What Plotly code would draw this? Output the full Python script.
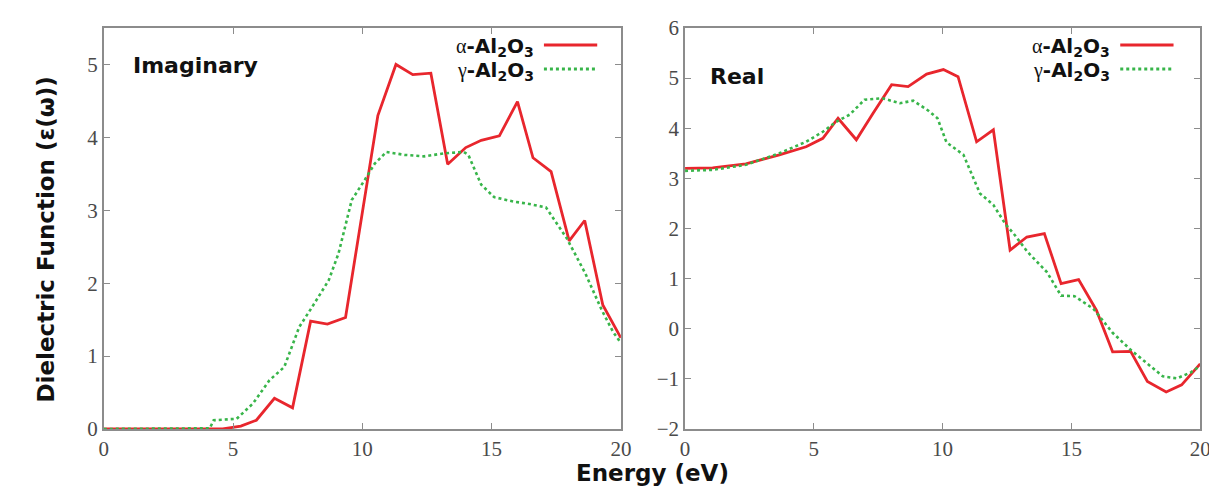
import plotly.graph_objects as go

# ---------------- data ----------------
# Imaginary part
imag_alpha_E = [0, 1, 2, 3, 4, 4.6, 5.3, 5.9, 6.6, 7.3, 8.0, 8.65, 9.35, 10.0, 10.6, 11.3,
                11.95, 12.65, 13.3, 14.0, 14.6, 15.3, 16.0, 16.6, 17.3, 18.0, 18.6, 19.3, 20.0]
imag_alpha_v = [0, 0, 0, 0, 0, 0.0, 0.04, 0.12, 0.42, 0.29, 1.48, 1.44, 1.53, 2.95, 4.3, 5.0,
                4.86, 4.88, 3.63, 3.86, 3.96, 4.02, 4.49, 3.72, 3.53, 2.58, 2.86, 1.7, 1.25]

imag_gamma_E = [0, 1, 2, 3, 4.1, 4.25, 5.14, 5.77, 6.41, 6.98, 7.56, 8.07, 8.7, 9.08, 9.59, 10.1,
                10.48, 10.93, 11.63, 12.39, 13.16, 13.92, 14.1, 14.6, 15.1, 15.83, 16.4, 17.1,
                17.9, 18.63, 19.26, 19.7, 20.0]
imag_gamma_v = [0, 0, 0, 0, 0.01, 0.12, 0.14, 0.35, 0.67, 0.85, 1.4, 1.68, 2.04, 2.41, 3.14, 3.42,
                3.64, 3.8, 3.76, 3.74, 3.78, 3.8, 3.76, 3.35, 3.18, 3.12, 3.09, 3.04,
                2.62, 2.13, 1.63, 1.33, 1.18]

# Real part
real_alpha_E = [0, 1.07, 2.36, 3.66, 4.7, 5.35, 5.94, 6.65, 7.3, 8.02, 8.66, 9.38, 10.03, 10.6,
                11.32, 11.97, 12.62, 13.27, 13.95, 14.6, 15.28, 15.97, 16.6, 17.3, 17.95, 18.68,
                19.28, 20.0]
real_alpha_v = [3.2, 3.21, 3.29, 3.47, 3.63, 3.8, 4.2, 3.77, 4.3, 4.87, 4.83, 5.08, 5.17, 5.03,
                3.73, 3.97, 1.57, 1.83, 1.9, 0.9, 0.98, 0.37, -0.46, -0.45, -1.05, -1.26,
                -1.12, -0.7]

real_gamma_E = [0, 1.07, 2.36, 3.66, 4.7, 5.35, 5.87, 6.39, 6.97, 7.65, 8.34, 8.86, 9.45, 9.8,
                10.15, 10.81, 11.45, 11.97, 12.45, 12.8, 13.3, 14.05, 14.6, 15.12, 15.85,
                16.6, 17.3, 17.85, 18.55, 19.1, 19.64, 20.0]
real_gamma_v = [3.15, 3.17, 3.27, 3.5, 3.73, 3.93, 4.13, 4.27, 4.57, 4.6, 4.5, 4.55, 4.35, 4.2,
                3.72, 3.47, 2.7, 2.47, 2.08, 1.87, 1.53, 1.13, 0.66, 0.65, 0.4,
                -0.08, -0.42, -0.65, -0.95, -0.99, -0.87, -0.74]

x_ticks = [0, 5, 10, 15, 20]
imag_ticks = [0, 1, 2, 3, 4, 5]
real_ticks = [-2, -1, 0, 1, 2, 3, 4, 5, 6]

series_prefix = ["α", "γ"]
series_body = "-Al<sub>2</sub>O<sub>3</sub>"
panel_labels = ["Imaginary", "Real"]

# ---------------- styling ----------------
W, H = 1217, 490
RED = "#e8262d"
GREEN = "#38b54a"
FRAME = "#8c8c8c"
TICKFONT = dict(family="Liberation Serif", size=21, color="#4a4a4a")
BOLD = "DejaVu Sans"

fig = go.Figure()

fig.add_trace(go.Scatter(x=imag_alpha_E, y=imag_alpha_v, mode="lines",
                         line=dict(color=RED, width=2.8), xaxis="x", yaxis="y",
                         showlegend=False))
fig.add_trace(go.Scatter(x=imag_gamma_E, y=imag_gamma_v, mode="lines",
                         line=dict(color=GREEN, width=2.6, dash="dot"), xaxis="x", yaxis="y",
                         showlegend=False))
fig.add_trace(go.Scatter(x=real_alpha_E, y=real_alpha_v, mode="lines",
                         line=dict(color=RED, width=2.8), xaxis="x2", yaxis="y2",
                         showlegend=False))
fig.add_trace(go.Scatter(x=real_gamma_E, y=real_gamma_v, mode="lines",
                         line=dict(color=GREEN, width=2.6, dash="dot"), xaxis="x2", yaxis="y2",
                         showlegend=False))

ax_common = dict(showline=True, linecolor=FRAME, linewidth=1.5, mirror="ticks",
                 ticks="inside", ticklen=6, tickcolor=FRAME, tickwidth=1,
                 showgrid=False, zeroline=False, tickfont=TICKFONT)

# plot areas (pixel positions from the reference)
L0, L1 = 92, 616
R0, R1 = 681, 1203

fig.update_layout(
    width=W, height=H,
    margin=dict(l=0, r=0, t=20, b=69),
    paper_bgcolor="white", plot_bgcolor="white",
    xaxis=dict(domain=[L0 / W, L1 / W], range=[0, 20], tickvals=x_ticks, anchor="y", **ax_common),
    yaxis=dict(domain=[0, 1], range=[0, 5.5], tickvals=imag_ticks, anchor="x", **ax_common),
    xaxis2=dict(domain=[R0 / W, R1 / W], range=[0, 20], tickvals=x_ticks, anchor="y2", **ax_common),
    yaxis2=dict(domain=[0, 1], range=[-2, 6], tickvals=real_ticks, anchor="x2", **ax_common),
)

plot_top, plot_bot = 20, H - 69
def py(ypix):
    return (plot_bot - ypix) / (plot_bot - plot_top)

ann = []
# axis titles
ann.append(dict(text="<b>Energy (eV)</b>", x=648 / W, y=py(465), xref="paper", yref="paper",
                showarrow=False, xanchor="center", yanchor="middle",
                font=dict(family=BOLD, size=23, color="#111")))
ann.append(dict(text="<b>Dielectric Function (ε(ω))</b>", x=33 / W, y=py(232), xref="paper",
                yref="paper", showarrow=False, textangle=-90, xanchor="center", yanchor="middle",
                font=dict(family=BOLD, size=23, color="#111")))
# panel labels
ann.append(dict(text="<b>" + panel_labels[0] + "</b>", x=120 / W, y=py(57), xref="paper",
                yref="paper", showarrow=False, xanchor="left", yanchor="middle",
                font=dict(family=BOLD, size=22, color="#111")))
ann.append(dict(text="<b>" + panel_labels[1] + "</b>", x=704 / W, y=py(68), xref="paper",
                yref="paper", showarrow=False, xanchor="left", yanchor="middle",
                font=dict(family=BOLD, size=22, color="#111")))

shapes = []
for (tx, lx0, lx1) in [(530, 538, 592), (1114, 1122, 1176)]:
    for i, (yy, col, dash) in enumerate([(37, RED, "solid"), (61, GREEN, "dot")]):
        label = ("<span style='font-family:Liberation Serif;font-weight:normal'>"
                 + series_prefix[i] + "</span><b>" + series_body + "</b>")
        ann.append(dict(text=label, x=tx / W, y=py(yy + 2),
                        xref="paper", yref="paper", showarrow=False, xanchor="right",
                        yanchor="middle", font=dict(family=BOLD, size=20, color="#111")))
        shapes.append(dict(type="line", xref="paper", yref="paper", x0=lx0 / W, x1=lx1 / W,
                           y0=py(yy), y1=py(yy), line=dict(color=col, width=2.8, dash=dash)))

fig.update_layout(annotations=ann, shapes=shapes)
fig.write_html("out.html")
